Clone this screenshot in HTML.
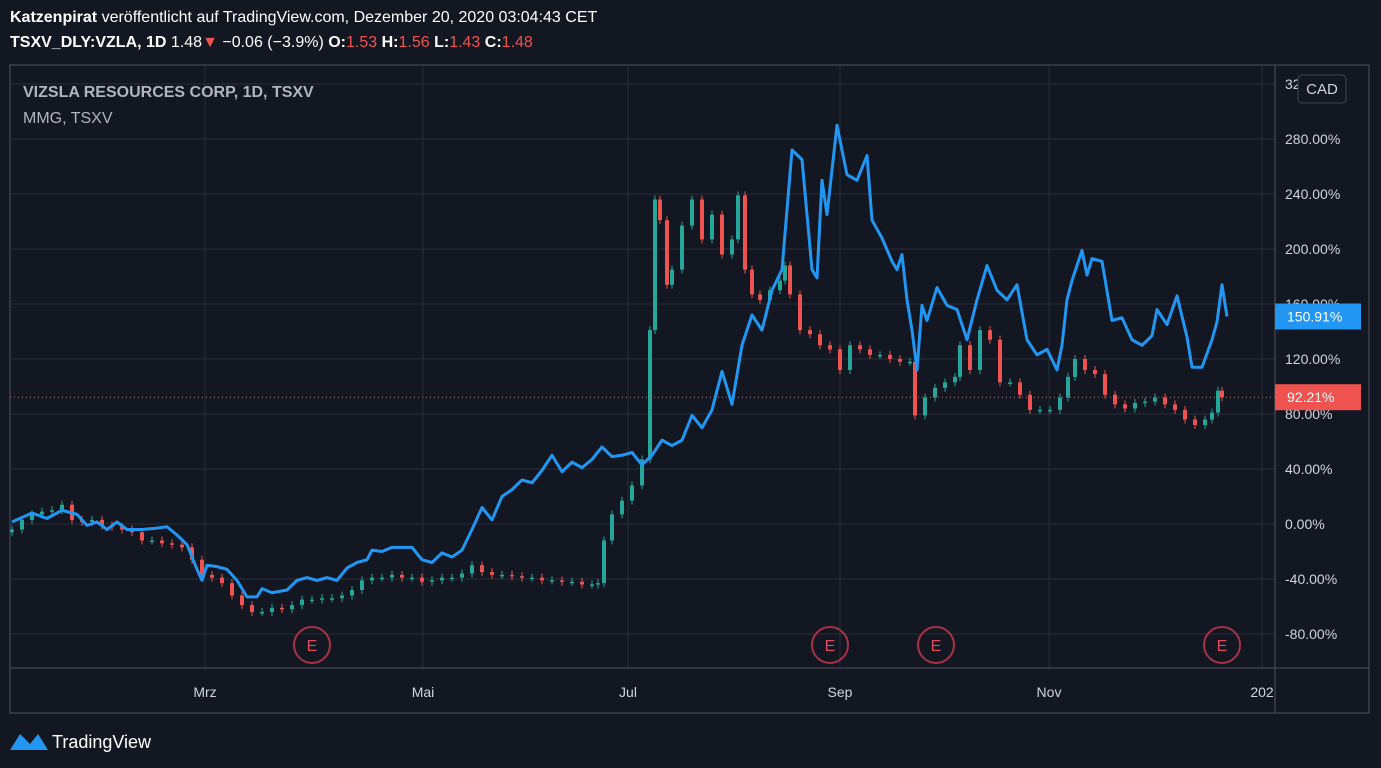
<!DOCTYPE html>
<html><head><meta charset="utf-8">
<style>
body{margin:0;width:1381px;height:768px;overflow:hidden;background:#131722;font-family:"Liberation Sans",sans-serif;}
#hdr{position:absolute;left:0;top:0;width:1381px;height:62px;background:#131722;color:#fff;font-size:16px;}
svg{position:absolute;left:0;top:0;}
</style></head><body>
<div id="hdr">
<div style="position:absolute;left:10px;top:9px;"><b>Katzenpirat</b> veröffentlicht auf TradingView.com, Dezember 20, 2020 03:04:43 CET</div>
<div style="position:absolute;left:10px;top:34px;"><b>TSXV_DLY:VZLA, 1D</b> 1.48<span style="color:#ef5350">▼</span> −0.06 (−3.9%) <b>O:</b><span style="color:#ef5350">1.53</span> <b>H:</b><span style="color:#ef5350">1.56</span> <b>L:</b><span style="color:#ef5350">1.43</span> <b>C:</b><span style="color:#ef5350">1.48</span></div>
</div>
<svg id="chart" width="1381" height="768"></svg>
<script>
const yTicks=[-80,-40,0,40,80,120,160,200,240,280,320];
const months=["Mrz","Mai","Jul","Sep","Nov","202"];
const monthDays=[38.6,82.2,123.2,165.6,207.4,250];
const lineDays=[0,4,7,10,13,15,17,19,21,23,26,29,31,33,35,37,38,39,41,43,45,47,49,50,52,55,57,59,61,63,65,67,69,71,72,74,76,78,80,82,84,86,88,90,92,94,96,98,100,102,104,106,108,110,112,114,116,118,120,122,124,126,128,130,132,134,136,138,140,142,144,146,148,150,152,154,156,158,160,161,162,163,165,167,169,171,172,174,176,177,178,179,180,181,182,183,185,187,189,191,193,195,197,199,201,203,205,207,209,210,211,212,214,215,216,218,220,222,224,226,228,229,231,233,235,236,238,240,241,242,243];
const lineVals=[1.5,8,4,10,7,-1,1.5,-4,1.5,-4,-4,-3,-2,-8,-15,-33,-41,-30,-31,-33,-41,-53,-53,-47,-50,-48,-41,-39,-41,-39,-41,-32,-28,-26,-19,-20,-17,-17,-17,-26,-28,-21,-24,-19,-4,12,3,20,25,32,30,39,50,38,45,41,47,56,49,50,52,43,50,61,57,61,79,70,83,111,87,130,152,141,170,185,272,265,185,179,250,225,290,254,250,268,221,208,191,185,196,163,141,112,159,148,172,159,156,134,163,188,170,163,174,134,123,127,112,130,163,177,199,181,193,191,148,150,134,130,137,156,145,166,136,114,114,134,147,174,150.91];
const candleX=[12,22,32,42,52,62,72,82,92,102,112,122,132,142,152,162,172,182,192,202,212,222,232,242,252,262,272,282,292,302,312,322,332,342,352,362,372,382,392,402,412,422,432,442,452,462,472,482,492,502,512,522,532,542,552,562,572,582,592,598,604,612,622,632,642,650,655,660,667,672,682,692,702,712,722,732,738,745,752,760,770,780,785,790,800,810,820,830,840,850,860,870,880,890,900,910,915,925,935,945,955,960,970,980,990,1000,1010,1020,1030,1040,1050,1060,1068,1075,1085,1095,1105,1115,1125,1135,1145,1155,1165,1175,1185,1195,1205,1212,1218,1222];
const candleClose=[-4,3,7,9,10,14,3,1.5,3,-1,-2,-4,-6,-12,-12,-14,-15,-17,-26,-37,-39,-43,-52,-59,-64,-64,-61,-62,-59,-55,-55,-54,-54,-52,-48,-41,-39,-39,-37,-39,-39,-42,-41,-39,-39,-36,-30,-35,-37,-37,-38,-39,-39,-41,-41,-42,-42,-44,-44,-43,-12,7,17,28,47,141,236,221,174,185,217,236,207,225,196,207,239,185,167,163,170,177,188,167,141,138,130,127,112,130,127,123,123,120,118,118,79,92,99,103,107,130,112,141,134,103,103,94,83,83,83,92,107,120,112,109,94,87,84,88,89,92,87,83,76,72,76,81,97,92.21];
const eventDays=[60,163.6,184.8,242];
const NS="http://www.w3.org/2000/svg";
const svg=document.getElementById('chart');
const L=10,R=1275,T=65,B=668;
const yS=v=>524-v*1.375;
const xD=d=>12+d*5;
function mk(tag,at,parent){const e=document.createElementNS(NS,tag);for(const k in at)e.setAttribute(k,at[k]);(parent||svg).appendChild(e);return e;}
mk('rect',{x:10,y:65,width:1359,height:648,fill:'#131722',stroke:'#50535e','stroke-width':1});
yTicks.forEach(v=>{const y=yS(v);if(y<T||y>B)return;
 const g=mk('line',{x1:L,x2:R,y1:y,y2:y,stroke:'#2a2e39','stroke-width':1});
 
 
 const t=mk('text',{x:1285,y:y+5,fill:'#d1d4dc','font-size':14});t.textContent=v.toFixed(2)+'%';
 
 
});
months.forEach((m,i)=>{const x=xD(monthDays[i]);
 const g=mk('line',{x1:x,x2:x,y1:T,y2:B,stroke:'#2a2e39','stroke-width':1});
 
 
 const t=mk('text',{x:x,y:697,fill:'#d1d4dc','font-size':14,'text-anchor':'middle'});t.textContent=m;
 
 
});
mk('line',{x1:R,x2:R,y1:T,y2:713,stroke:'#50535e'});
mk('line',{x1:L,x2:1369,y1:B,y2:B,stroke:'#50535e'});
// candles
candleX.forEach((x,i)=>{const c=candleClose[i];const o=i>0?candleClose[i-1]:c-2;
 const up=c>=o;const col=up?'#26a69a':'#ef5350';
 const top=yS(Math.max(o,c)),bot=yS(Math.min(o,c));
 const g=mk('g',{});
 
 
 mk('line',{x1:x,x2:x,y1:top-4,y2:bot+4,stroke:col,'stroke-width':1},g);
 mk('rect',{x:x-2,y:top,width:4,height:Math.max(1.5,bot-top),fill:col},g);
});
// price line
const pl=mk('line',{x1:L,x2:R,y1:yS(92.21),y2:yS(92.21),stroke:'#ef5350','stroke-dasharray':'1 3','stroke-width':1});


// blue line
const pts=lineDays.map((d,i)=>xD(d)+','+yS(lineVals[i])).join(' ');
const bl=mk('polyline',{points:pts,fill:'none',stroke:'#2196f3','stroke-width':3,'stroke-linejoin':'round'});


// events
eventDays.forEach(d=>{const x=xD(d);const g=mk('g',{});
 
 
 mk('circle',{cx:x,cy:645,r:18,fill:'none',stroke:'#a83245','stroke-width':2},g);
 const t=mk('text',{x:x,y:651,fill:'#e04a5a','font-size':16,'text-anchor':'middle'},g);t.textContent='E';});
// last value labels
function tag(v,col,txt,name){const y=yS(v);const g=mk('g',{});
 
 
 mk('rect',{x:1275,y:y-13,width:86,height:26,fill:col},g);
 const t=mk('text',{x:1287,y:y+5,fill:'#fff','font-size':14},g);t.textContent=txt;}
tag(150.91,'#2196f3','150.91%','mmg-last-value');
tag(92.21,'#ef5350','92.21%','vzla-last-value');
// CAD
const cg=mk('g',{});


mk('rect',{x:1298,y:75,width:48,height:28,rx:4,fill:'#131722',stroke:'#434651'},cg);
const ct=mk('text',{x:1322,y:94,fill:'#d1d4dc','font-size':15,'text-anchor':'middle'},cg);ct.textContent='CAD';
// titles
const t1=mk('text',{x:23,y:97,fill:'#b2b5be','font-size':16,'font-weight':'bold'});t1.textContent='VIZSLA RESOURCES CORP, 1D, TSXV';


const t2=mk('text',{x:23,y:123,fill:'#b2b5be','font-size':16});t2.textContent='MMG, TSXV';


// logo
const lg=mk('g',{});


mk('path',{d:'M10 750 L20 734 L30 744 L38 734 L48 750 Z',fill:'#2196f3'},lg);
const lt=mk('text',{x:52,y:748,fill:'#fff','font-size':18},lg);lt.textContent='TradingView';
</script>
</body></html>
